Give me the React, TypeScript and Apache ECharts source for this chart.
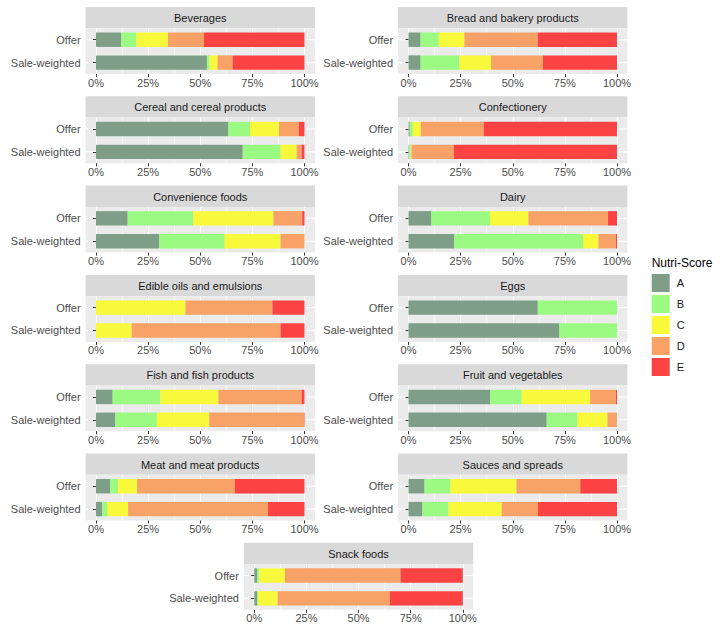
import { useEffect, useRef } from "react";
import * as echarts from "echarts";

// food groups, in facet order (left to right, top to bottom)
const categories = [
    "Beverages",
    "Bread and bakery products",
    "Cereal and cereal products",
    "Confectionery",
    "Convenience foods",
    "Dairy",
    "Edible oils and emulsions",
    "Eggs",
    "Fish and fish products",
    "Fruit and vegetables",
    "Meat and meat products",
    "Sauces and spreads",
    "Snack foods",
];

const scores = ["A", "B", "C", "D", "E"];
const rowLabels = ["Sale-weighted", "Offer"]; // bottom to top
const tickValues = [0, 25, 50, 75, 100];

// shares (%) per category, ordered A..E
const offerShares = [
    [12, 7.4, 15.1, 17.3, 48.2],
    [5.8, 8.7, 12.3, 35.2, 38],
    [63.5, 10.4, 13.9, 9.5, 2.7],
    [0.6, 1.5, 3.8, 30.2, 63.9],
    [15.2, 31.4, 38.5, 13.8, 1.1],
    [11, 28.1, 18.4, 38.2, 4.3],
    [0, 0, 42.9, 41.7, 15.4],
    [62, 38, 0, 0, 0],
    [8, 22.9, 27.8, 39.9, 1.4],
    [39.1, 15.2, 32.8, 12.4, 0.5],
    [6.7, 3.9, 9.1, 46.8, 33.5],
    [7.7, 12.4, 31.7, 30.6, 17.6],
    [1.4, 1.0, 12.3, 55.4, 29.9],
];

const saleShares = [
    [53.2, 1.3, 3.8, 7.2, 34.5],
    [5.8, 18.6, 15.2, 24.9, 35.5],
    [70.4, 18.1, 7.7, 2.4, 1.4],
    [0.3, 0.8, 0.3, 20.3, 78.3],
    [30.4, 31.3, 26.8, 11.5, 0],
    [21.9, 61.8, 7.4, 8.4, 0.5],
    [0, 0, 17.1, 71.4, 11.5],
    [72.4, 27.6, 0, 0, 0],
    [9.3, 19.9, 25.1, 45.4, 0.3],
    [66.3, 14.7, 14.4, 4.6, 0],
    [3.0, 2.4, 10.0, 67.1, 17.5],
    [6.7, 12.5, 25.5, 17.4, 37.9],
    [1.4, 0.4, 9.4, 53.8, 35],
];

const scoreColors = ["#7E9E88", "#9BFA82", "#F9F93C", "#F9A267", "#FC4343"];

const FONT = "'Liberation Sans', Arial, sans-serif";

// facet geometry
const PLOT_W = 208.5;
const EXPAND = PLOT_W * 0.05;
const STRIP_H = 21.3;
const PANEL_H = 45.7;
const ROW_PITCH = 89.3;
const FIRST_STRIP_TOP = 7;

function panelLeft(i: number) {
    if (i === 12) return 254.3; // last facet sits centered
    return i % 2 === 0 ? 96 : 408.5;
}

export default function App() {
    const chartRef = useRef<HTMLDivElement | null>(null);

    useEffect(() => {
        document.body.style.margin = "0";
        if (!chartRef.current) return;
        const chart = echarts.init(chartRef.current, undefined, { renderer: "svg" });

        const grids: any[] = [];
        const xAxes: any[] = [];
        const yAxes: any[] = [];
        const series: any[] = [];
        const graphics: any[] = [];

        categories.forEach((name, i) => {
            const row = Math.floor(i / 2);
            const left = panelLeft(i);
            const stripTop = FIRST_STRIP_TOP + ROW_PITCH * row;
            const top = stripTop + STRIP_H;

            grids.push({ left, top, width: PLOT_W, height: PANEL_H });

            // strip + panel background
            graphics.push({
                type: "rect",
                z: -2,
                shape: { x: left - EXPAND, y: stripTop, width: PLOT_W + 2 * EXPAND, height: STRIP_H },
                style: { fill: "#D9D9D9" },
            });
            graphics.push({
                type: "rect",
                z: -2,
                shape: { x: left - EXPAND, y: top, width: PLOT_W + 2 * EXPAND, height: PANEL_H },
                style: { fill: "#EBEBEB" },
            });
            graphics.push({
                type: "text",
                z: -1,
                x: left + PLOT_W / 2,
                y: stripTop + STRIP_H / 2 + 0.5,
                style: {
                    text: name,
                    fill: "#1A1A1A",
                    fontSize: 11,
                    fontFamily: FONT,
                    align: "center",
                    verticalAlign: "middle",
                },
            });
            // horizontal major gridlines through category centres
            [0.25, 0.75].forEach((f) => {
                graphics.push({
                    type: "line",
                    z: -1,
                    shape: {
                        x1: left - EXPAND,
                        y1: top + PANEL_H * f,
                        x2: left + PLOT_W + EXPAND,
                        y2: top + PANEL_H * f,
                    },
                    style: { stroke: "#FFFFFF", lineWidth: 1.1 },
                });
            });

            xAxes.push({
                type: "value",
                gridIndex: i,
                min: 0,
                max: 100,
                interval: 25,
                z: 1,
                axisLine: { show: false },
                axisTick: { show: true, length: 3, lineStyle: { color: "#333333", width: 1 } },
                axisLabel: {
                    formatter: "{value}%",
                    fontSize: 11,
                    fontFamily: FONT,
                    color: "#4D4D4D",
                    margin: 3,
                    customValues: tickValues,
                },
                splitLine: { show: true, lineStyle: { color: "#FFFFFF", width: 1.1 } },
                minorTick: { show: false, splitNumber: 2 },
                minorSplitLine: { show: true, lineStyle: { color: "#FFFFFF", width: 0.5 } },
            });

            yAxes.push({
                type: "category",
                gridIndex: i,
                data: rowLabels,
                offset: EXPAND,
                z: 1,
                axisLine: { show: false },
                axisTick: {
                    show: true,
                    alignWithLabel: true,
                    length: 3,
                    lineStyle: { color: "#333333", width: 1 },
                },
                axisLabel: { fontSize: 11, fontFamily: FONT, color: "#4D4D4D", margin: 5 },
                splitLine: { show: false },
            });

            scores.forEach((s, k) => {
                series.push({
                    name: s,
                    type: "bar",
                    stack: "panel" + i,
                    xAxisIndex: i,
                    yAxisIndex: i,
                    barWidth: 14.4,
                    itemStyle: { color: scoreColors[k] },
                    emphasis: { disabled: true },
                    data: [saleShares[i][k], offerShares[i][k]],
                });
            });
        });

        graphics.push({
            type: "text",
            x: 651.7,
            y: 263,
            style: {
                text: "Nutri-Score",
                fill: "#000000",
                fontSize: 12,
                fontFamily: FONT,
                align: "left",
                verticalAlign: "middle",
            },
        });

        const option: echarts.EChartsOption = {
            animation: false,
            color: scoreColors,
            grid: grids,
            xAxis: xAxes,
            yAxis: yAxes,
            series,
            graphic: { elements: graphics },
            legend: {
                data: scores,
                orient: "vertical",
                left: 651.7,
                top: 274,
                padding: 0,
                itemWidth: 18,
                itemHeight: 18,
                itemGap: 3,
                icon: "rect",
                selectedMode: false,
                textStyle: {
                    fontSize: 11,
                    fontFamily: FONT,
                    color: "#1A1A1A",
                    padding: [0, 0, 0, 2],
                },
            },
        };

        chart.setOption(option);

        return () => {
            chart.dispose();
        };
    }, []);

    return <div ref={chartRef} style={{ width: "721px", height: "633px" }} />;
}
